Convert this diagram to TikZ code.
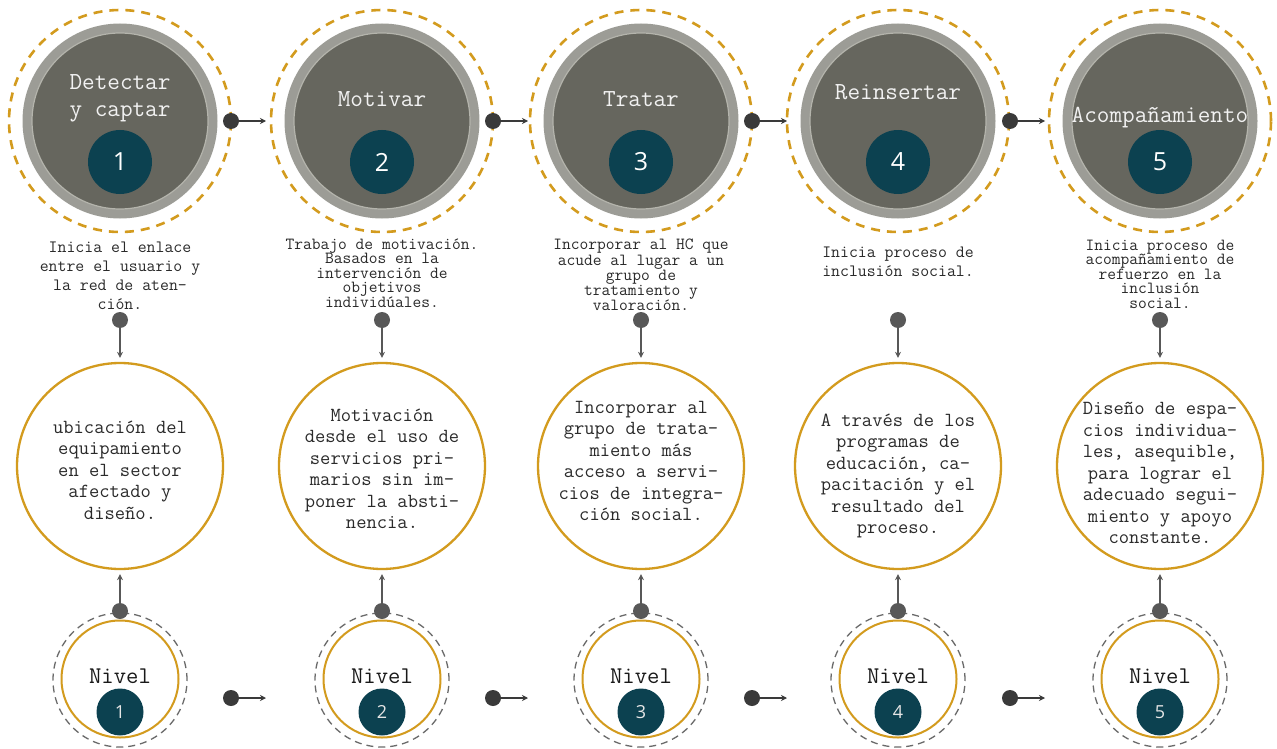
\documentclass[tikz,border=0pt]{standalone}
\usepackage{fontspec}
\newfontfamily\numfont{Open Sans}
\newcommand\mymono{\ttfamily}
\usetikzlibrary{arrows.meta}
\definecolor{gold}{HTML}{D39B1E}
\definecolor{ringgray}{HTML}{9C9C96}
\definecolor{discgray}{HTML}{66665E}
\definecolor{discedge}{HTML}{B4B4AC}
\definecolor{tealc}{HTML}{0C4150}
\definecolor{dotc}{HTML}{3A3A3A}
\definecolor{vdotc}{HTML}{585858}
\definecolor{txt}{HTML}{2A2A2A}
\definecolor{lvlgray}{HTML}{6A6A6A}
\tikzset{
  outerdash/.style={circle, draw=gold, line width=2.6pt, dash pattern=on 9pt off 7pt, minimum size=222pt, inner sep=0pt},
  ring/.style={circle, fill=ringgray, minimum size=195pt, inner sep=0pt},
  disc/.style={circle, fill=discgray, draw=discedge, line width=1.2pt, minimum size=176pt, inner sep=0pt},
  numtop/.style={circle, fill=tealc, minimum size=64pt, inner sep=0pt, text=white, font=\numfont\fontsize{25}{28}\selectfont},
  heading/.style={text=white!95!black, align=center, inner sep=0pt, font=\mymono\fontsize{24.5}{27}\selectfont},
  desc/.style={text=txt, align=center, inner sep=0pt},
  maincirc/.style={circle, draw=gold, line width=2.3pt, minimum size=206pt, inner sep=0pt},
  bodytxt/.style={text=txt, align=center, inner sep=0pt, font=\mymono\fontsize{20}{21.5}\selectfont},
  lvldash/.style={circle, draw=lvlgray, line width=1.3pt, dash pattern=on 7pt off 5pt, minimum size=134pt, inner sep=0pt},
  lvlgold/.style={circle, draw=gold, line width=2pt, minimum size=117pt, inner sep=0pt},
  lvltext/.style={text=black!90, inner sep=0pt, font=\mymono\fontsize{24}{26}\selectfont},
  numbot/.style={circle, fill=tealc, minimum size=47pt, inner sep=0pt, text=white!90!black, font=\numfont\fontsize{18}{20}\selectfont},
  hdot/.style={circle, fill=dotc, minimum size=16pt, inner sep=0pt},
  vdot/.style={circle, fill=vdotc, minimum size=16pt, inner sep=0pt},
  harrow/.style={draw=dotc, line width=1.5pt, -{Stealth[length=6pt,width=6pt]}},
  varrow/.style={draw=vdotc, line width=1.3pt, -{Stealth[length=6pt,width=6pt]}, shorten >=4pt}
}
\begin{document}
\begin{tikzpicture}[x=1pt,y=-1pt]
\useasboundingbox (0,0) rectangle (1277,749);
\fill[white] (0,0) rectangle (1277,749);
\foreach \i/\x in {1/120,2/382,3/641,4/898,5/1160} {
  \node[outerdash] (o\i) at (\x,121) {};
  \node[ring] (r\i) at (\x,121) {};
  \node[disc] (k\i) at (\x,121) {};
  \node[numtop] (n\i) at (\x,162) {\i};
  \node[maincirc] (m\i) at (\x,466) {};
  \node[lvldash] (q\i) at (\x,680) {};
  \node[lvlgold] (l\i) at (\x,679) {};
  \node[lvltext] (t\i) at (\x,676) {Nivel};
  \node[numbot] (p\i) at (\x,712) {\i};
  \node[vdot] (v\i) at (\x,320) {};
  \node[vdot] (b\i) at (\x,611) {};
  \draw[varrow] (v\i) -- (m\i);
  \draw[varrow] (b\i) -- (m\i);
}
\foreach \j/\a/\b in {1/231/266,2/493/528,3/752/787,4/1010/1045} {
  \node[hdot] (h\j) at (\a,121) {};
  \coordinate (he\j) at (\b,121);
  \draw[harrow] (h\j) -- (he\j);
  \node[hdot] (g\j) at (\a,698) {};
  \coordinate (ge\j) at (\b,698);
  \draw[harrow] (g\j) -- (ge\j);
}
% headings
\node[heading] (hd1) at (120,98) {Detectar\\y captar};
\node[heading] (hd2) at (382,99) {Motivar};
\node[heading] (hd3) at (641,99) {Tratar};
\node[heading] (hd4) at (898,92) {Reinsertar};
\node[heading] (hd5) at (1160,118) {Acompañamiento};
% descriptions
\node[desc, font=\mymono\fontsize{17.3}{19}\selectfont] (ds1) at (120,276) {Inicia el enlace\\entre el usuario y\\la red de aten-\\ción.};
\node[desc, font=\mymono\fontsize{17}{14.5}\selectfont] (ds2) at (382,273) {Trabajo de motivación.\\Basados en la\\intervención de\\objetivos\\individúales.};
\node[desc, font=\mymono\fontsize{17}{15.2}\selectfont] (ds3) at (641,275) {Incorporar al HC que\\acude al lugar a un\\grupo de\\tratamiento y\\valoración.};
\node[desc, font=\mymono\fontsize{17.3}{19}\selectfont] (ds4) at (898,262) {Inicia proceso de\\inclusión social.};
\node[desc, font=\mymono\fontsize{17}{14.5}\selectfont] (ds5) at (1160,274) {Inicia proceso de\\acompañamiento de\\refuerzo en la\\inclusión\\social.};
% body texts
\node[bodytxt] (bt1) at (120,470) {ubicación del\\equipamiento\\en el sector\\afectado y\\diseño.};
\node[bodytxt] (bt2) at (382,469) {Motivación\\desde el uso de\\servicios pri-\\marios sin im-\\poner la absti-\\nencia.};
\node[bodytxt] (bt3) at (641,461) {Incorporar al\\grupo de trata-\\miento más\\acceso a servi-\\cios de integra-\\ción social.};
\node[bodytxt] (bt4) at (898,476) {A través de los\\programas de\\educación, ca-\\pacitación y el\\resultado del\\proceso.};
\node[bodytxt] (bt5) at (1160,473) {Diseño de espa-\\cios individua-\\les, asequible,\\para lograr el\\adecuado segui-\\miento y apoyo\\constante.};
\end{tikzpicture}
\end{document}
